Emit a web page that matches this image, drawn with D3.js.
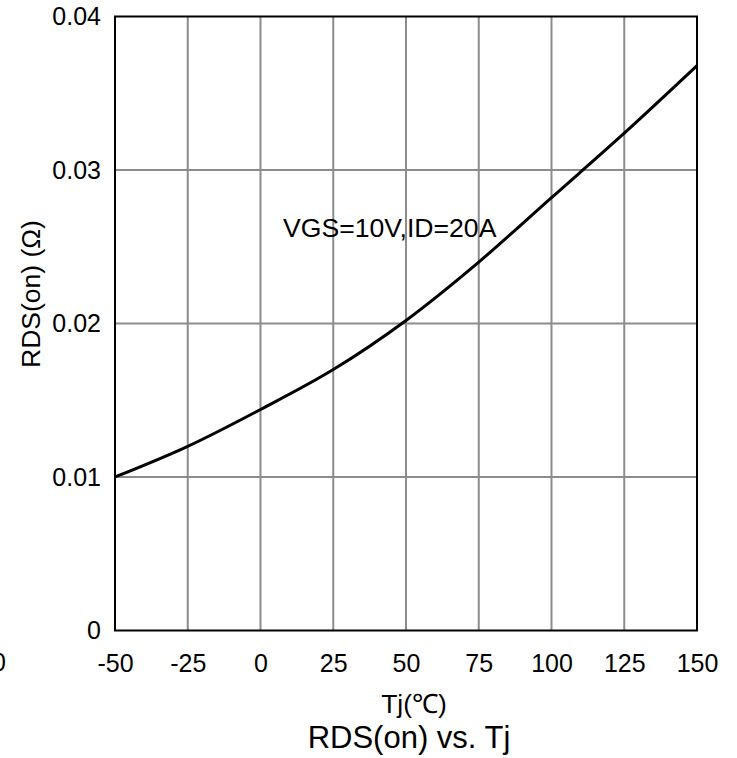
<!DOCTYPE html>
<html>
<head>
<meta charset="utf-8">
<script src="https://cdn.jsdelivr.net/npm/d3@7"></script>
<style>
  html, body { margin: 0; padding: 0; background: #fff; }
  svg { display: block; font-family: Arial, "Liberation Sans", Helvetica, sans-serif; }
</style>
</head>
<body>
<svg id="chart" width="737" height="758"></svg>
<script>
// Junction temperature (°C) and on-resistance (Ω)
const tempC = [-50, -25, 0, 25, 50, 75, 100, 125, 150];
const rdsOn = [0.0100, 0.0120, 0.0144, 0.0170, 0.0202, 0.0240, 0.0282, 0.0324, 0.0368];

const xTicks = [-50, -25, 0, 25, 50, 75, 100, 125, 150];
const xTickLabels = ["-50", "-25", "0", "25", "50", "75", "100", "125", "150"];
const yTicks = [0, 0.01, 0.02, 0.03, 0.04];
const yTickLabels = ["0", "0.01", "0.02", "0.03", "0.04"];

const svg = d3.select("#chart");
const plotLeft = 115, plotRight = 697, plotTop = 16.5, plotBottom = 630.5;

const x = d3.scaleLinear().domain([-50, 150]).range([plotLeft, plotRight]);
const y = d3.scaleLinear().domain([0, 0.04]).range([plotBottom, plotTop]);

// grid
const grid = svg.append("g").attr("stroke", "#8c8c8c").attr("stroke-width", 2);
grid.selectAll("line.v").data(xTicks.slice(1, -1)).join("line")
  .attr("x1", d => x(d)).attr("x2", d => x(d))
  .attr("y1", plotTop).attr("y2", plotBottom);
grid.selectAll("line.h").data(yTicks.slice(1, -1)).join("line")
  .attr("x1", plotLeft).attr("x2", plotRight)
  .attr("y1", d => y(d)).attr("y2", d => y(d));

// axes (labels only; frame drawn separately)
const xAxis = d3.axisBottom(x).tickValues(xTicks).tickSize(0).tickPadding(24)
  .tickFormat((d, i) => xTickLabels[i]);
svg.append("g").attr("transform", `translate(0,${plotBottom})`).call(xAxis)
  .call(g => g.select(".domain").remove())
  .call(g => g.selectAll("text").attr("font-size", 25).attr("fill", "#000")
    .attr("font-family", "Arial, 'Liberation Sans', sans-serif"));

const yAxis = d3.axisLeft(y).tickValues(yTicks).tickSize(0).tickPadding(14)
  .tickFormat((d, i) => yTickLabels[i]);
svg.append("g").attr("transform", `translate(${plotLeft},0)`).call(yAxis)
  .call(g => g.select(".domain").remove())
  .call(g => g.selectAll("text").attr("font-size", 25).attr("fill", "#000")
    .attr("font-family", "Arial, 'Liberation Sans', sans-serif"));

// clipped tick label at the far left edge
svg.append("text").attr("x", 6).attr("y", 671).attr("text-anchor", "end")
  .attr("font-size", 25).text("0");

// frame
svg.append("rect").attr("x", plotLeft).attr("y", plotTop)
  .attr("width", plotRight - plotLeft).attr("height", plotBottom - plotTop)
  .attr("fill", "none").attr("stroke", "#000").attr("stroke-width", 2);

// curve
const line = d3.line().x(d => x(d[0])).y(d => y(d[1])).curve(d3.curveMonotoneX);
svg.append("path").datum(tempC.map((t, i) => [t, rdsOn[i]]))
  .attr("d", line).attr("fill", "none").attr("stroke", "#000").attr("stroke-width", 3);

// condition note
svg.append("text").attr("x", 283).attr("y", 237).attr("font-size", 26.6)
  .text("VGS=10V,ID=20A");

// axis titles
svg.append("text").attr("transform", "translate(40,294) rotate(-90)")
  .attr("text-anchor", "middle").attr("font-size", 26.5).text("RDS(on) (Ω)");
svg.append("text").attr("x", 414).attr("y", 713).attr("text-anchor", "middle")
  .attr("font-size", 26.5).text("Tj(℃)");
svg.append("text").attr("x", 409).attr("y", 748).attr("text-anchor", "middle")
  .attr("font-size", 31).text("RDS(on) vs. Tj");
</script>
</body>
</html>
